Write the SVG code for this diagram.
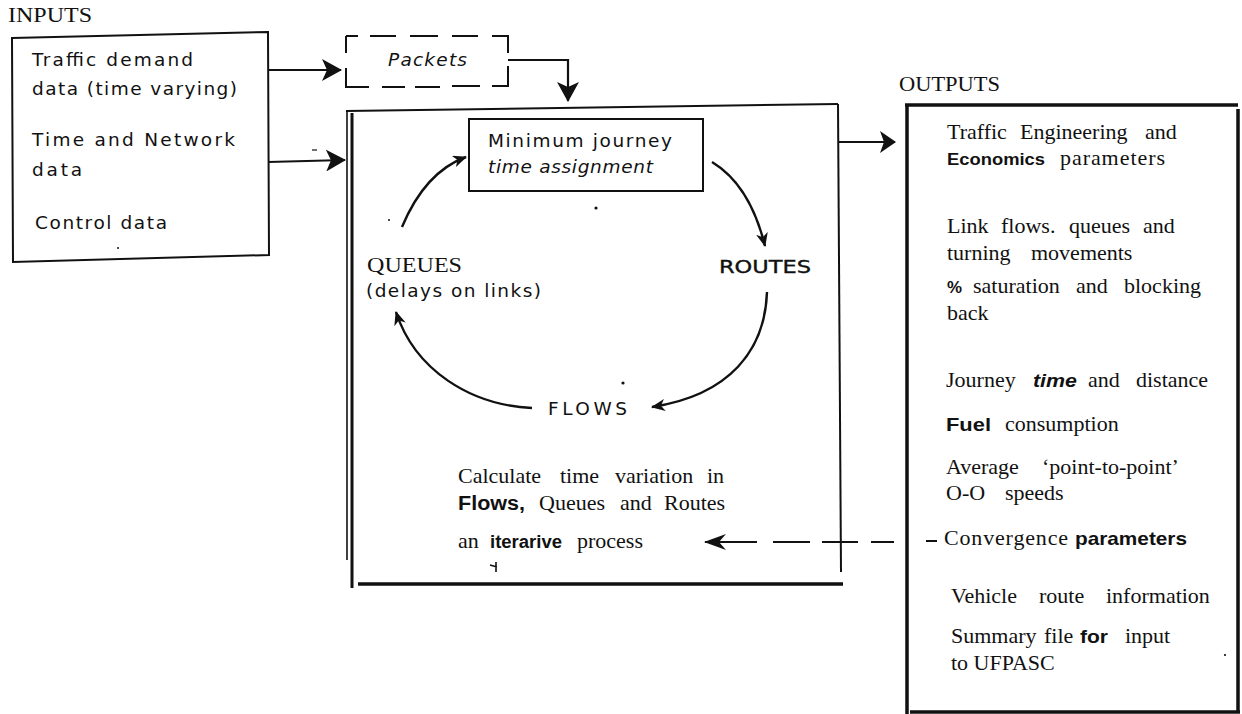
<svg xmlns="http://www.w3.org/2000/svg" width="1242" height="714" viewBox="0 0 1242 714">
<style>
  .serif{font-family:"Liberation Serif","Times New Roman",serif;font-size:22px;fill:#111}
  .cap{font-family:"Liberation Serif","Times New Roman",serif;font-size:20px;fill:#111}
  .sans{font-family:"DejaVu Sans","Liberation Sans",sans-serif;font-size:18.5px;fill:#111}
  .bs{font-family:"Liberation Sans",Arial,sans-serif;font-weight:bold;fill:#111}
  .box{fill:none;stroke:#111;stroke-width:2}
  .thick{fill:none;stroke:#111;stroke-width:3.5}
  .conn{fill:none;stroke:#111;stroke-width:2.2}
  .arc{fill:none;stroke:#111;stroke-width:2.4}
</style>
<defs>
  <marker id="big" viewBox="0 0 20 22" refX="19" refY="11" markerWidth="20" markerHeight="22" markerUnits="userSpaceOnUse" orient="auto">
    <path d="M0,0 L20,11 L0,22 L5,11 z" fill="#111"/>
  </marker>
  <marker id="mid" viewBox="0 0 16 22" refX="15" refY="11" markerWidth="16" markerHeight="22" markerUnits="userSpaceOnUse" orient="auto">
    <path d="M0,0 L16,11 L0,22 L4,11 z" fill="#111"/>
  </marker>
  <marker id="small" viewBox="0 0 14 12" refX="13" refY="6" markerWidth="14" markerHeight="12" markerUnits="userSpaceOnUse" orient="auto">
    <path d="M0,0 L14,6 L0,12 L4,6 z" fill="#111"/>
  </marker>
  <marker id="dash" viewBox="0 0 22 16" refX="21" refY="8" markerWidth="22" markerHeight="16" markerUnits="userSpaceOnUse" orient="auto">
    <path d="M0,0 L22,8 L0,16 L7,8 z" fill="#111"/>
  </marker>
</defs>

<text class="cap" x="8" y="22" textLength="84" lengthAdjust="spacingAndGlyphs">INPUTS</text>
<text class="cap" x="899" y="91" textLength="101" lengthAdjust="spacingAndGlyphs">OUTPUTS</text>

<g id="inputs">
  <polygon class="box" points="12,38 268,32 269,255 13,262"/>
  <text class="sans" x="32" y="66" textLength="161" lengthAdjust="spacing">Traffic demand</text>
  <text class="sans" x="32" y="95" textLength="205" lengthAdjust="spacing">data (time varying)</text>
  <text class="sans" x="32" y="146" textLength="203" lengthAdjust="spacing">Time and Network</text>
  <text class="sans" x="32" y="176" textLength="50" lengthAdjust="spacing">data</text>
  <text class="sans" x="35" y="229" textLength="132" lengthAdjust="spacing">Control data</text>
  <circle cx="118" cy="248" r="1" fill="#111"/>
</g>

<g id="packets">
  <path class="box" d="M346,36 V53 M346,68 V87 H369 M382,87 H405 M415,87 H440 M452,86 H480 M492,86 H508 V66 M508,53 V36 H492 M478,36 H452 M438,36 H410 M396,36 H370 M358,36 H346"/>
  <text class="sans" font-size="18" font-style="italic" x="388" y="66" textLength="79" lengthAdjust="spacing">Packets</text>
</g>

<g id="process">
  <path d="M346,111 L838,104" class="box"/>
  <path d="M347,111 L347,560" fill="none" stroke="#111" stroke-width="1.6"/>
  <path d="M352,113 L352,588" fill="none" stroke="#111" stroke-width="3"/>
  <path d="M838,104 L841,572" class="box"/>
  <path d="M358,584 L843,584" fill="none" stroke="#111" stroke-width="3.5"/>
  <text class="serif" y="483"><tspan x="458">Calculate</tspan><tspan x="560">time</tspan><tspan x="615">variation</tspan><tspan x="707">in</tspan></text>
  <text class="bs" font-size="20" x="458" y="510" textLength="67" lengthAdjust="spacingAndGlyphs">Flows,</text>
  <text class="serif" y="510"><tspan x="539">Queues</tspan><tspan x="620">and</tspan><tspan x="664">Routes</tspan></text>
  <text class="serif" x="458" y="548">an</text>
  <text class="bs" font-size="18" x="490" y="548" textLength="72" lengthAdjust="spacingAndGlyphs">iterarive</text>
  <text class="serif" x="577" y="548">process</text>
  <path d="M490,565 L497,567 M496,562 V572" fill="none" stroke="#111" stroke-width="1.6"/>
</g>

<g id="assignment">
  <rect class="box" x="469" y="119" width="234" height="72"/>
  <text class="sans" x="488" y="147" textLength="184" lengthAdjust="spacing">Minimum journey</text>
  <text class="sans" font-style="italic" x="488" y="173" textLength="165" lengthAdjust="spacing">time assignment</text>
</g>

<g id="routes">
  <text class="sans" font-size="19" x="719" y="273" textLength="92" lengthAdjust="spacingAndGlyphs" stroke="#111" stroke-width="0.4">ROUTES</text>
</g>

<g id="flows">
  <text class="sans" font-size="18" x="548" y="415" textLength="79" lengthAdjust="spacing">FLOWS</text>
</g>

<g id="queues">
  <text class="cap" x="367" y="272" textLength="95" lengthAdjust="spacingAndGlyphs">QUEUES</text>
  <text class="sans" x="366" y="297" textLength="175" lengthAdjust="spacing">(delays on links)</text>
</g>

<g id="outputs">
  <path class="thick" d="M905,105 H1238 M907,104 V714 M1238,109 V712 M910,712 H1240"/>
  <text class="serif" y="139"><tspan x="947">Traffic</tspan><tspan x="1020">Engineering</tspan><tspan x="1145">and</tspan></text>
  <text class="bs" font-size="17" x="947" y="165" textLength="98" lengthAdjust="spacingAndGlyphs">Economics</text>
  <text class="serif" x="1060" y="165" textLength="105" lengthAdjust="spacing">parameters</text>
  <text class="serif" y="233"><tspan x="947">Link</tspan><tspan x="1001">flows.</tspan><tspan x="1069">queues</tspan><tspan x="1143">and</tspan></text>
  <text class="serif" y="260"><tspan x="947">turning</tspan><tspan x="1031">movements</tspan></text>
  <text class="bs" font-size="17" x="947" y="293" textLength="15" lengthAdjust="spacingAndGlyphs">%</text>
  <text class="serif" y="293"><tspan x="973">saturation</tspan><tspan x="1076">and</tspan><tspan x="1124">blocking</tspan></text>
  <text class="serif" x="947" y="320">back</text>
  <text class="serif" x="946" y="387">Journey</text>
  <text class="bs" font-size="19" font-style="italic" x="1033" y="387" textLength="44" lengthAdjust="spacingAndGlyphs">time</text>
  <text class="serif" y="387"><tspan x="1088">and</tspan><tspan x="1136">distance</tspan></text>
  <text class="bs" font-size="18" x="946" y="431" textLength="45" lengthAdjust="spacingAndGlyphs">Fuel</text>
  <text class="serif" x="1005" y="431">consumption</text>
  <text class="serif" y="474"><tspan x="946">Average</tspan><tspan x="1042">‘point-to-point’</tspan></text>
  <text class="serif" y="500"><tspan x="946">O-O</tspan><tspan x="1005">speeds</tspan></text>
  <text class="serif" x="944" y="545" textLength="124" lengthAdjust="spacing">Convergence</text>
  <text class="bs" font-size="19" x="1075" y="545" textLength="112" lengthAdjust="spacingAndGlyphs">parameters</text>
  <text class="serif" y="603"><tspan x="951">Vehicle</tspan><tspan x="1039">route</tspan><tspan x="1106">information</tspan></text>
  <text class="serif" y="643"><tspan x="951">Summary</tspan><tspan x="1044">file</tspan></text>
  <text class="bs" font-size="18" x="1080" y="643" textLength="28" lengthAdjust="spacingAndGlyphs">for</text>
  <text class="serif" x="1125" y="643">input</text>
  <text class="serif" x="951" y="670">to UFPASC</text>
  <circle cx="1225" cy="655" r="1.1" fill="#111"/>
</g>

<g id="connectors">
  <path class="conn" d="M268,70 L341,70" marker-end="url(#big)"/>
  <path class="conn" d="M268,162 L345,160" marker-end="url(#big)"/>
  <path class="conn" d="M508,60 L568,60 L568,101" marker-end="url(#big)"/>
  <path class="conn" d="M838,142 L895,142" marker-end="url(#mid)"/>
  <path class="arc" d="M402,227 Q425,172 466,157" marker-end="url(#small)"/>
  <path class="arc" d="M712,162 Q750,185 765,246" marker-end="url(#small)"/>
  <path class="arc" d="M767,292 C765,350 730,395 652,407" marker-end="url(#small)"/>
  <path class="arc" d="M532,408 C470,405 415,370 396,312" marker-end="url(#small)"/>
  <path class="conn" d="M937,541 H926 M894,542 H871 M858,542 H822 M810,542 H773 M757,542 H705" marker-end="url(#dash)"/>
  <circle cx="596" cy="208" r="1.6" fill="#111"/>
  <circle cx="623" cy="383" r="1.6" fill="#111"/>
  <circle cx="389" cy="220" r="1" fill="#111"/>
  <path d="M312,150 H317" stroke="#111" stroke-width="1.2"/>
</g>
</svg>
